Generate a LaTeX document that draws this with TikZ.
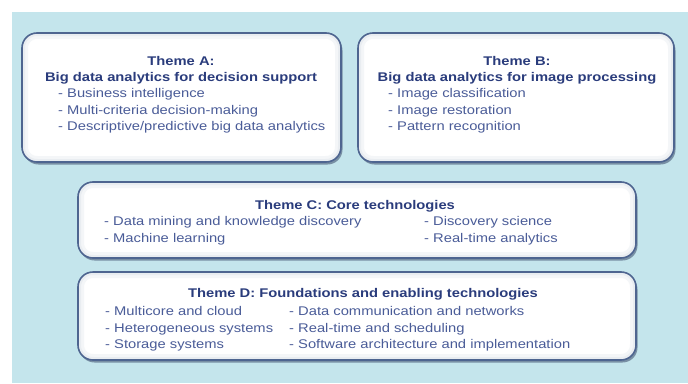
\documentclass[tikz,border=0pt]{standalone}
\usepackage{fontspec}
\setmainfont{Liberation Sans}
\newfontfamily\widesans[FakeStretch=1.17]{Liberation Sans}
\usetikzlibrary{shadows}
\definecolor{bgblue}{HTML}{C4E5EC}
\definecolor{boxline}{HTML}{4E6590}
\definecolor{titlecol}{HTML}{2A3C7C}
\definecolor{itemcol}{HTML}{4A5C98}
\definecolor{shadowcol}{HTML}{3A4A6A}
\definecolor{innerglow}{HTML}{DDE3EA}
\tikzset{
  themebox/.style={draw=boxline, line width=1.6pt, rounded corners=15pt, fill=white,
    inner sep=0pt, drop shadow={shadow xshift=1.5pt, shadow yshift=-2.5pt, fill=shadowcol, opacity=0.55},
    path picture={
      \draw[innerglow, opacity=0.3, line width=12pt, rounded corners=15pt]
        (path picture bounding box.south west) rectangle (path picture bounding box.north east);
      \draw[innerglow, opacity=0.45, line width=6pt, rounded corners=15pt]
        (path picture bounding box.south west) rectangle (path picture bounding box.north east);
    }},
  ttl/.style={anchor=base, inner sep=0pt, text=titlecol, font=\widesans\fontsize{12.6}{14}\selectfont\bfseries},
  itm/.style={anchor=base west, inner sep=0pt, text=itemcol, font=\widesans\fontsize{12.6}{14}\selectfont},
}
\begin{document}
\begin{tikzpicture}[x=1pt,y=-1pt]
  % page and background panel
  \useasboundingbox (0,0) rectangle (688,383);
  \fill[white] (0,0) rectangle (688,383);
  \fill[bgblue] (12,12) rectangle (688,383);

  % theme boxes
  \node[themebox, minimum width=319pt, minimum height=129pt] (boxA) at (181.5,97.5) {};
  \node[themebox, minimum width=316pt, minimum height=129pt] (boxB) at (516,97.5) {};
  \node[themebox, minimum width=558pt, minimum height=76pt] (boxC) at (357,220) {};
  \node[themebox, minimum width=558pt, minimum height=88pt] (boxD) at (357,316) {};

  % Theme A
  \node[ttl] (tA1) at (181,65.5) {Theme A:};
  \node[ttl] (tA2) at (181,81) {Big data analytics for decision support};
  \node[itm] (iA1) at (58,97.5) {- Business intelligence};
  \node[itm] (iA2) at (58,114) {- Multi-criteria decision-making};
  \node[itm] (iA3) at (58,130.5) {- Descriptive/predictive big data analytics};

  % Theme B
  \node[ttl] (tB1) at (517,65.5) {Theme B:};
  \node[ttl] (tB2) at (517,81) {Big data analytics for image processing};
  \node[itm] (iB1) at (388,97.5) {- Image classification};
  \node[itm] (iB2) at (388,114) {- Image restoration};
  \node[itm] (iB3) at (388,130.5) {- Pattern recognition};

  % Theme C
  \node[ttl] (tC) at (355,209.5) {Theme C: Core technologies};
  \node[itm] (iC1) at (104,225.5) {- Data mining and knowledge discovery};
  \node[itm] (iC2) at (104,242.5) {- Machine learning};
  \node[itm] (iC3) at (424,225.5) {- Discovery science};
  \node[itm] (iC4) at (424,242.5) {- Real-time analytics};

  % Theme D
  \node[ttl] (tD) at (363,297.5) {Theme D: Foundations and enabling technologies};
  \node[itm] (iD1) at (105,315.5) {- Multicore and cloud};
  \node[itm] (iD2) at (105,332.5) {- Heterogeneous systems};
  \node[itm] (iD3) at (105,348.5) {- Storage systems};
  \node[itm] (iD4) at (289,315.5) {- Data communication and networks};
  \node[itm] (iD5) at (289,332.5) {- Real-time and scheduling};
  \node[itm] (iD6) at (289,348.5) {- Software architecture and implementation};
\end{tikzpicture}
\end{document}
